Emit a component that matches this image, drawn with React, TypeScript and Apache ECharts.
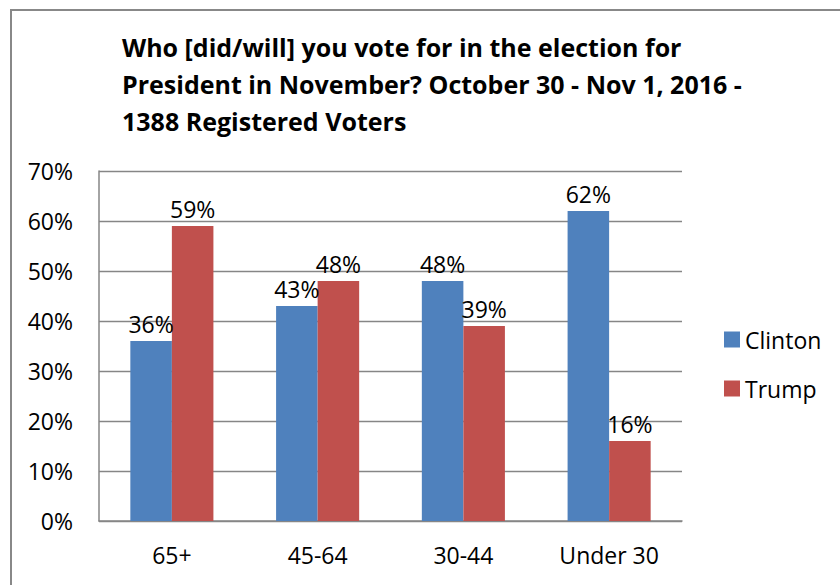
import React, { useEffect, useRef } from "react";
import * as echarts from "echarts";

const categories = ["65+", "45-64", "30-44", "Under 30"];
const clinton = [36, 43, 48, 62];
const trump = [59, 48, 39, 16];
const titleLines = [
  "Who [did/will] you vote for in the election for",
  "President in November? October 30 - Nov 1, 2016 -",
  "1388 Registered Voters",
];

export default function App() {
  const ref = useRef<HTMLDivElement>(null);
  useEffect(() => {
    if (!ref.current) return;
    const chart = echarts.init(ref.current, null, { renderer: "svg" });
    const font = "Open Sans";
    const fs = 23;
    const label = {
      show: true,
      position: "top",
      distance: 6,
      formatter: "{c}%",
      fontFamily: font,
      fontSize: fs,
      color: "#000",
    };
    chart.setOption({
      animation: false,
      backgroundColor: "#ffffff",
      title: {
        text: titleLines.join("\n"),
        left: 122,
        top: 28,
        padding: 0,
        textStyle: {
          fontFamily: "Open Sans",
          fontWeight: "bold",
          fontSize: 25,
          lineHeight: 37,
          color: "#000",
        },
      },
      graphic: [
        {
          type: "polyline",
          shape: { points: [[11, 600], [11, 10], [850, 10]] },
          style: { stroke: "#888888", lineWidth: 2, fill: "none" },
          silent: true,
        },
      ],
      legend: {
        orient: "vertical",
        left: 724,
        top: 328,
        padding: 0,
        itemWidth: 16,
        itemHeight: 16,
        itemGap: 26,
        icon: "rect",
        textStyle: { fontFamily: font, fontSize: fs, color: "#000" },
        data: ["Clinton", "Trump"],
      },
      grid: { left: 99, right: 158, top: 171, bottom: 64, containLabel: false },
      xAxis: {
        type: "category",
        data: categories,
        axisLine: { lineStyle: { color: "#868686", width: 1.5 } },
        axisTick: { show: false },
        axisLabel: { fontFamily: font, fontSize: fs, color: "#000", margin: 22 },
      },
      yAxis: {
        type: "value",
        min: 0,
        max: 70,
        interval: 10,
        axisLine: { show: true, lineStyle: { color: "#868686", width: 1.5 } },
        axisTick: { show: false },
        axisLabel: {
          formatter: "{value}%",
          fontFamily: font,
          fontSize: fs,
          color: "#000",
          margin: 26,
        },
        splitLine: { lineStyle: { color: "#868686", width: 1.3 } },
      },
      series: [
        {
          name: "Clinton",
          type: "bar",
          data: clinton,
          barGap: "0%",
          barCategoryGap: "43%",
          itemStyle: { color: "#4F81BD" },
          label,
        },
        {
          name: "Trump",
          type: "bar",
          data: trump,
          barGap: "0%",
          barCategoryGap: "43%",
          itemStyle: { color: "#C0504D" },
          label,
        },
      ],
    });
    return () => chart.dispose();
  }, []);
  return (
    <div
      ref={ref}
      style={{ position: "fixed", left: 0, top: 0, width: 840, height: 585 }}
    />
  );
}
